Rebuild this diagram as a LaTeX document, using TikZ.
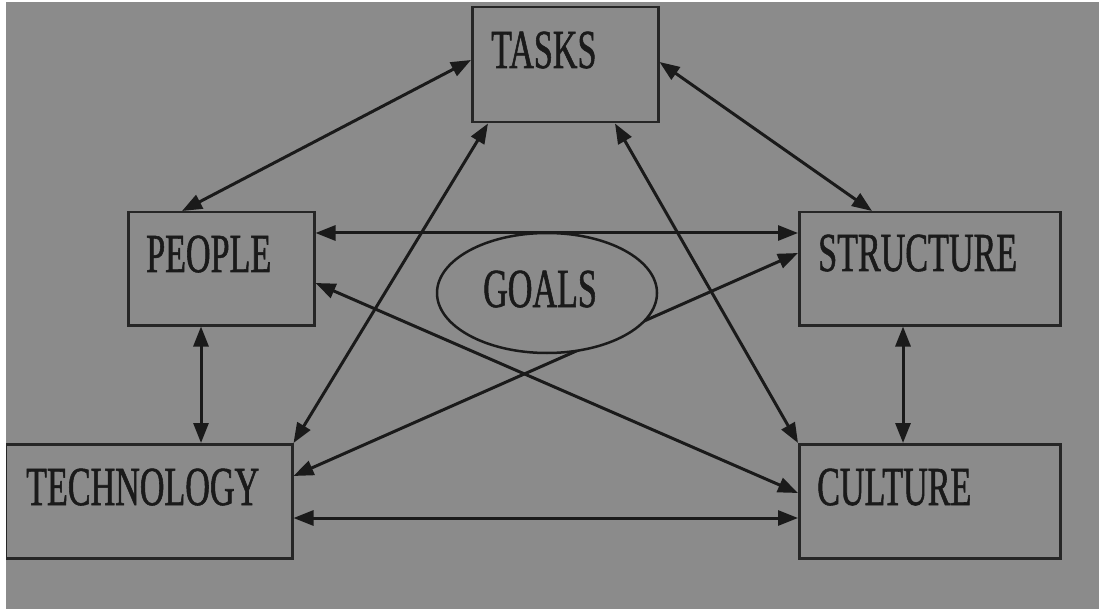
\documentclass[tikz,border=0pt]{standalone}
\usepackage{fontspec}
\setmainfont{Liberation Serif}
\newfontfamily\condserif[FakeStretch=0.62,FakeBold=1]{Liberation Serif}
\usetikzlibrary{arrows.meta,calc,shapes.geometric}
\definecolor{panel}{HTML}{8B8B8B}
\definecolor{ink}{HTML}{1A1A1A}
\definecolor{frame}{HTML}{262626}
\begin{document}
\begin{tikzpicture}[x=1pt,y=-1pt,
  box/.style={draw=frame,line width=2.5pt,fill=panel,rectangle,inner sep=0pt,anchor=north west},
  oval/.style={draw=ink,line width=2.5pt,fill=panel,ellipse,inner sep=0pt},
  lbl/.style={anchor=base west,inner sep=0pt,text=ink,font=\condserif\fontsize{55}{55}\selectfont},
  link/.style={draw=ink,line width=3pt,{Triangle[length=20pt,width=15pt]}-{Triangle[length=20pt,width=15pt]}}]
  % page: white edge, grey panel
  \useasboundingbox (0,0) rectangle (1099,609);
  \fill[white] (0,0) rectangle (1099,609);
  \fill[panel] (6,2) rectangle (1099,609);

  % boxes
  \node[box,minimum width=186pt,minimum height=115pt] (tasks) at (471,6) {};
  \node[box,minimum width=186pt,minimum height=113pt] (people) at (127,211) {};
  \node[box,minimum width=261pt,minimum height=113pt] (structure) at (798,211) {};
  \node[box,minimum width=287pt,minimum height=114pt] (technology) at (4,443) {};
  \node[box,minimum width=261pt,minimum height=114pt] (culture) at (798,443) {};

  % labels
  \node[lbl] (tasksl) at (491,68) {TASKS};
  \node[lbl] (peoplel) at (146,272) {PEOPLE};
  \node[lbl] (structurel) at (818,271) {STRUCTURE};
  \node[lbl] (technologyl) at (26,505) {TECHNOLOGY};
  \node[lbl] (culturel) at (817,505) {CULTURE};

  % connectors
  \path[link] ($(tasks.north west)+(0,54)$) -- ($(people.north west)+(55,0)$);
  \path[link] ($(tasks.north east)+(0,56)$) -- ($(structure.north west)+(74,0)$);
  \path[link] ($(people.north east)+(0,22)$) -- ($(structure.north west)+(0,22)$);
  \path[link] ($(people.north east)+(0,72)$) -- ($(culture.north west)+(0,50)$);
  \path[link] ($(technology.north east)+(0,33)$) -- ($(structure.north west)+(0,42)$);
  \path[link] ($(tasks.south west)+(17,0)$) -- (technology.north east);
  \path[link] ($(tasks.south west)+(144,0)$) -- (culture.north west);
  \path[link] ($(people.south west)+(74,0)$) -- ($(technology.north west)+(197,0)$);
  \path[link] ($(structure.south west)+(105,0)$) -- ($(culture.north west)+(105,0)$);
  \path[link] ($(technology.north east)+(0,75)$) -- ($(culture.north west)+(0,75)$);

  % central goal
  \node[oval,minimum width=220pt,minimum height=120pt] (goals) at (547,293) {};
  \node[lbl] (goalsl) at (483,307) {GOALS};

  % white left edge over the cut-off box
  \fill[white] (0,0) rectangle (6,609);
  \fill[white] (0,0) rectangle (1099,2);
\end{tikzpicture}
\end{document}
